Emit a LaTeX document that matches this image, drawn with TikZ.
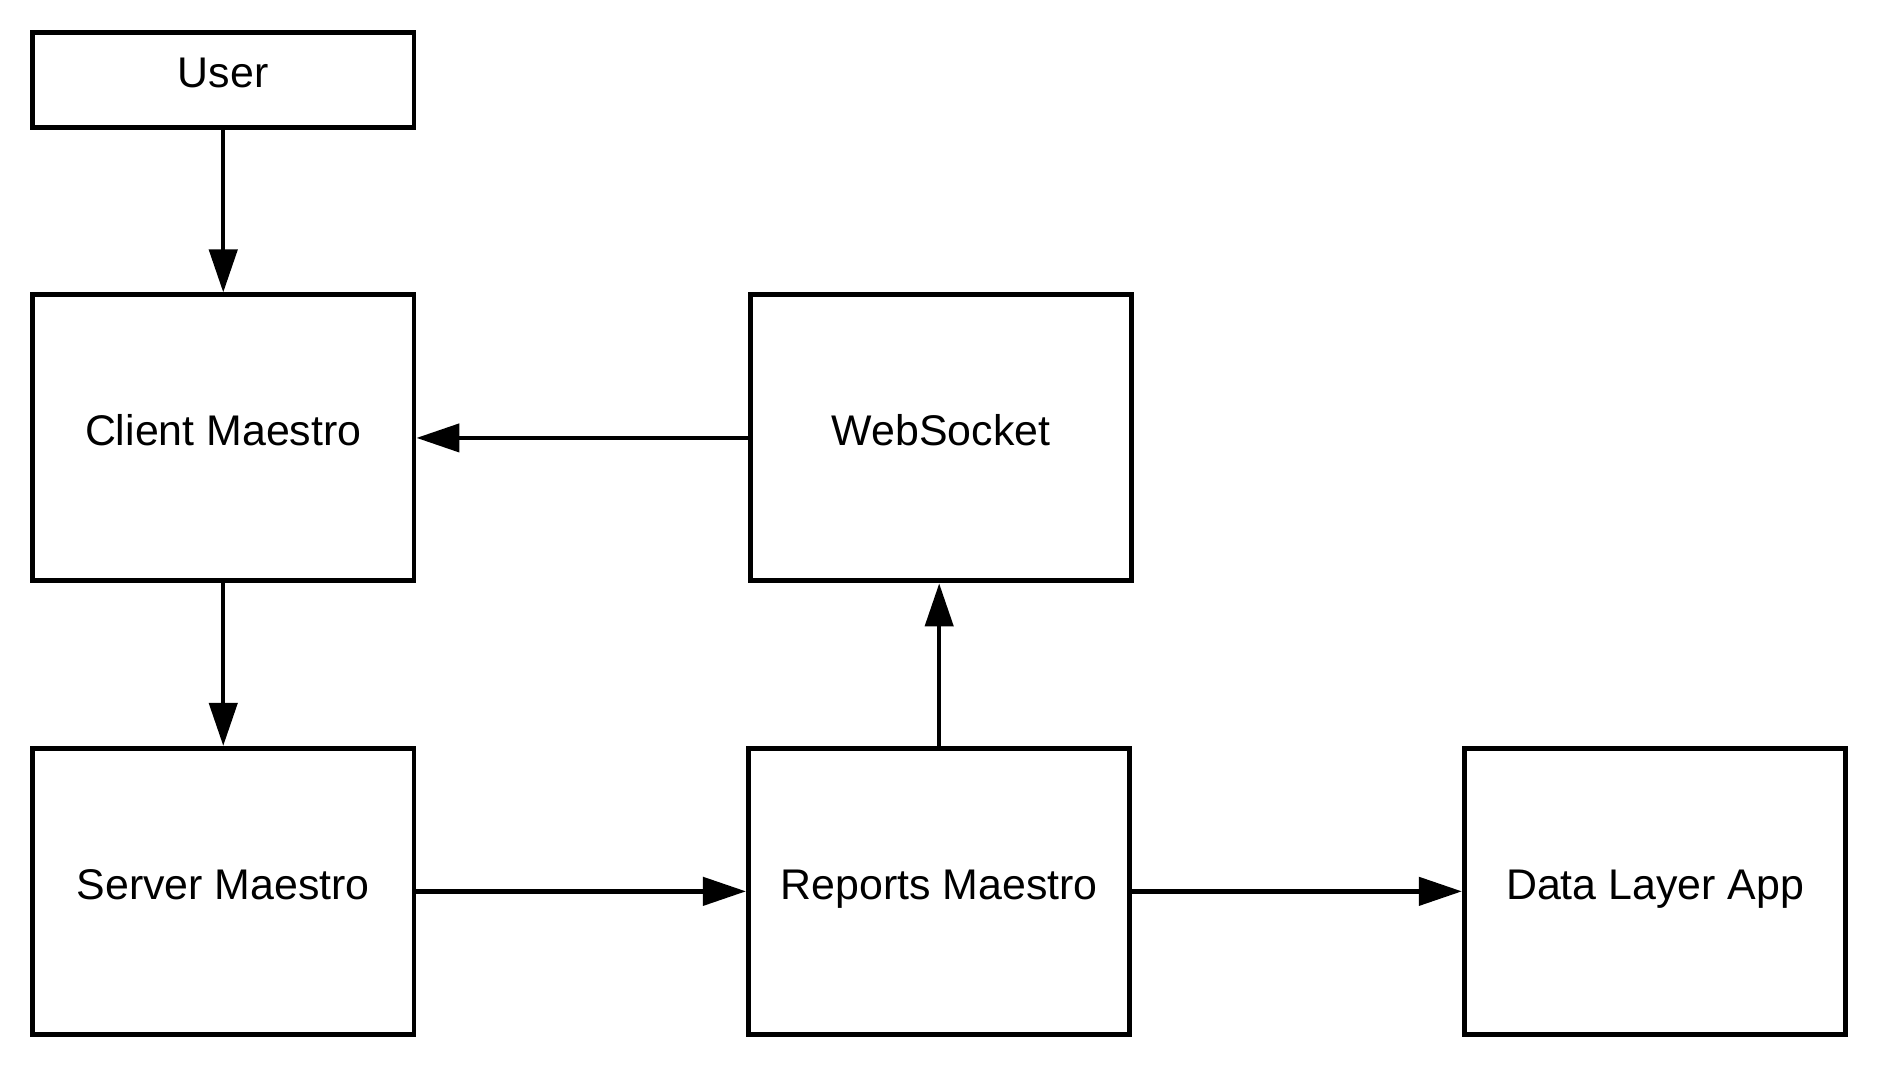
\documentclass[tikz,border=0pt]{standalone}
\usepackage{fontspec}
\setmainfont{Liberation Sans}
\usetikzlibrary{positioning,arrows.meta}
\begin{document}
\begin{tikzpicture}[box/.style={draw, line width=1.4pt, minimum width=3.815cm,
    minimum height=2.86cm, text height=0.30cm, text depth=0.14cm,
    font=\fontsize{12.2}{14}\selectfont},
    flow/.style={line width=1.25pt, -{Triangle[length=4.3mm,width=2.8mm]}},
    node distance=1.625cm and 3.295cm]
\useasboundingbox (0,0) rectangle (18.8,-10.74);
\node[box, minimum height=0.95cm](u) at (2.2325,-0.8){User};
\node[box, below=of u](cm){Client Maestro};
\node[box, below=of cm](sm){Server Maestro};
\node[box, right=of sm](rm){Reports Maestro};
\node[box, right=of rm](dl){Data Layer App};
\node[box, above=of rm, xshift=0.02cm](ws){WebSocket};
\draw[flow] (u) -- (cm);
\draw[flow] (cm) -- (sm);
\draw[flow] (sm) -- (rm);
\draw[flow] (rm) -- (dl);
\draw[flow] (rm) -- (rm |- ws.south);
\draw[flow] (ws) -- (cm);
\end{tikzpicture}
\end{document}
